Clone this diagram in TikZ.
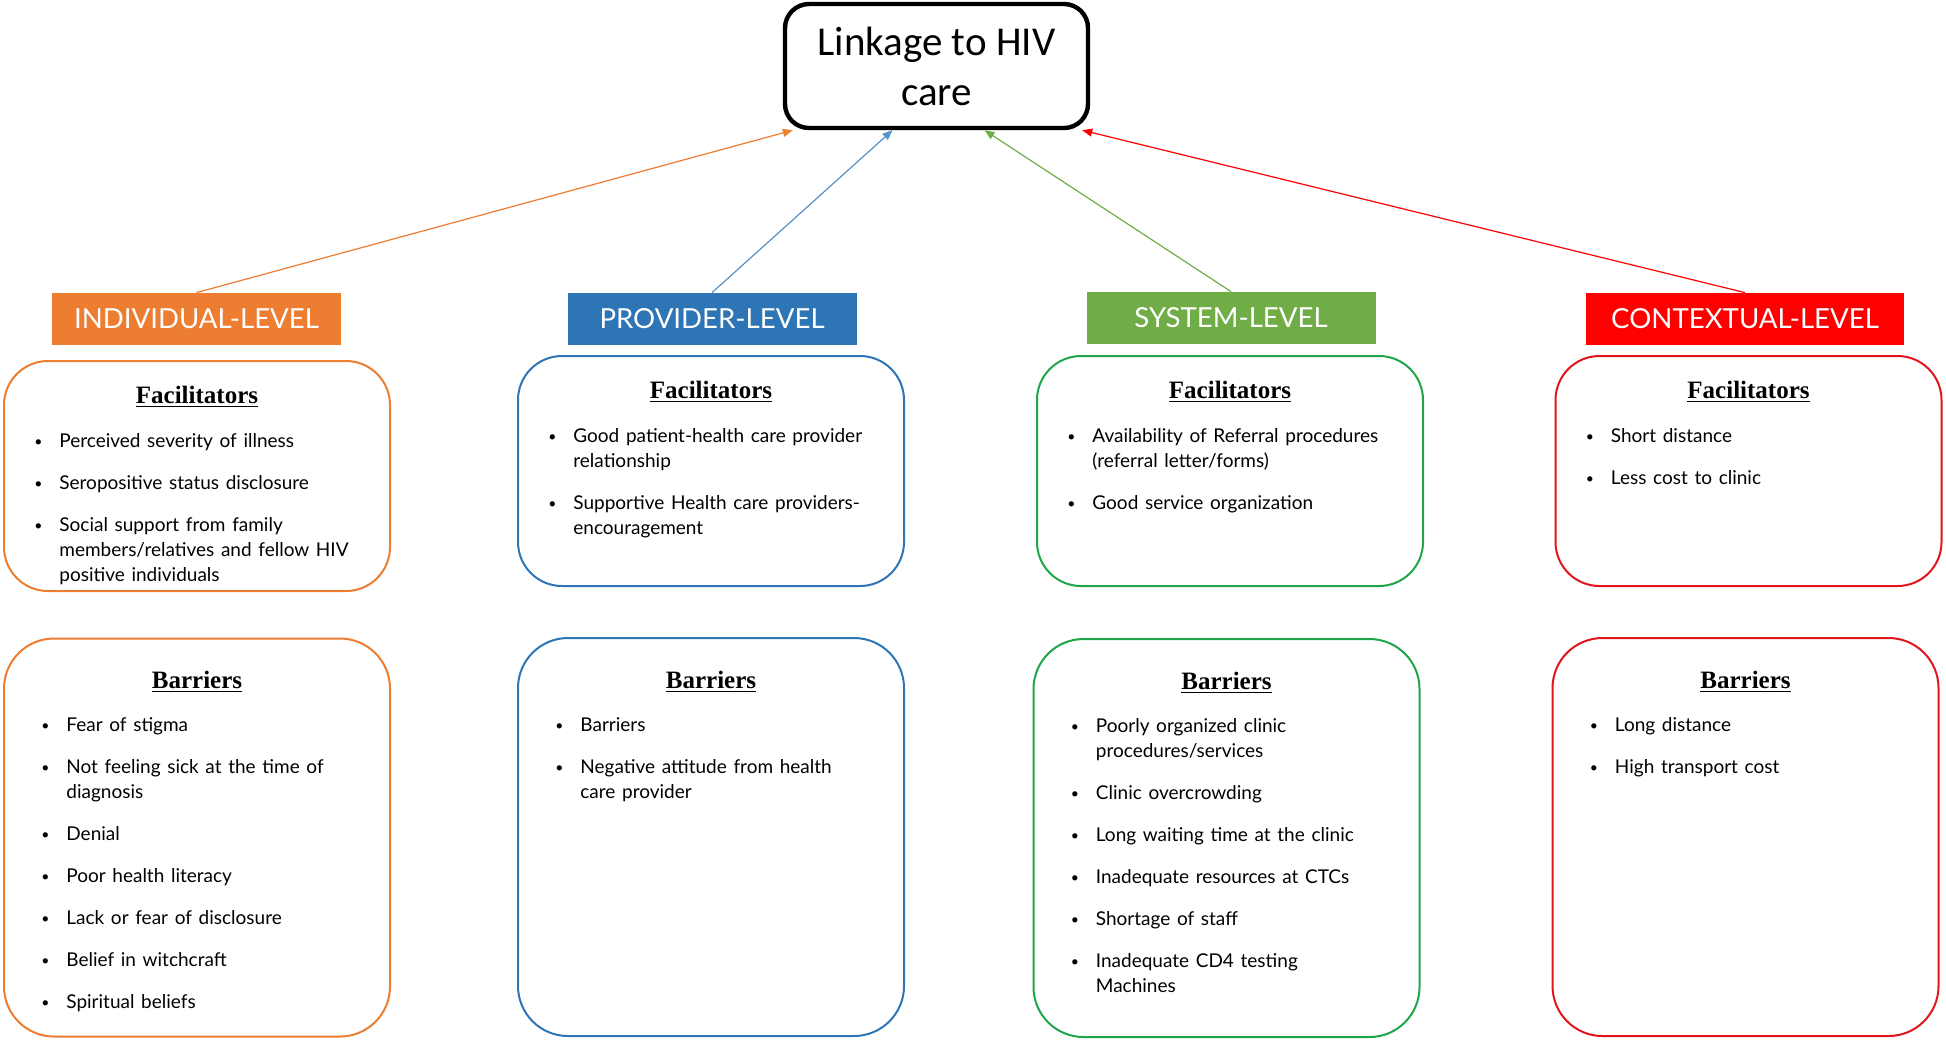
\documentclass[tikz,border=0pt]{standalone}
\usepackage{fontspec}
\usepackage{xcolor}
\usepackage{tikz}
\usetikzlibrary{positioning,arrows.meta}

\setmainfont{Lato}
\newfontfamily\titlefont{Carlito}
\newfontfamily\headfont{Liberation Serif}

\definecolor{indorange}{HTML}{ED7D31}
\definecolor{provblue}{HTML}{2E75B6}
\definecolor{sysgreen}{HTML}{70AD47}
\definecolor{ctxred}{HTML}{FF0000}
\definecolor{sysline}{HTML}{1FA54A}
\definecolor{ctxline}{HTML}{E0161C}

% one bullet point, hanging indent for wrapped lines
\newcommand{\bul}[1]{\hangindent=12.5pt\hangafter=1\makebox[12.5pt][l]{\raisebox{0.4pt}{\fontsize{7}{7}\selectfont\textbullet}}\strut#1\par}

\tikzset{
    goalbox/.style={draw=black,line width=2.2pt,rounded corners=12pt,minimum width=151.5pt,minimum height=62pt,align=center,font=\titlefont\fontsize{20.5}{25}\selectfont},
    levelbox/.style={minimum width=144.5pt,minimum height=26pt,text=white,font=\fontsize{13.8}{15}\selectfont},
    facbox/.style={draw=#1,line width=1pt,rounded corners=22pt,minimum width=193pt,minimum height=115pt},
    barbox/.style={draw=#1,line width=1pt,rounded corners=25pt,minimum width=193pt,minimum height=199pt},
    boxhead/.style={anchor=base,font=\headfont\bfseries\fontsize{12.5}{15}\selectfont},
    itemlist/.style={anchor=base west,text width=175pt,align=left,
        execute at begin node={\fontsize{9.5}{12.5}\selectfont\setlength{\parskip}{8.5pt}}},
    link/.style={draw=#1,line width=0.6pt,-{Triangle[length=5pt,width=4pt]}}
}

\begin{document}
\begin{tikzpicture}[x=0.5pt,y=-0.5pt,every node/.style={inner sep=0pt}]
    \useasboundingbox (0,0) rectangle (1946,1041);

    \node[goalbox] (goal) at (936.5,66) {Linkage to HIV\\care};

    % levels
    \node[levelbox,fill=indorange] (lvl1) at (196.5,319) {INDIVIDUAL-LEVEL};
    \node[levelbox,fill=provblue] (lvl2) at (712,319) {PROVIDER-LEVEL};
    \node[levelbox,fill=sysgreen] (lvl3) at (1231,318) {SYSTEM-LEVEL};
    \node[levelbox,fill=ctxred,minimum width=159pt] (lvl4) at (1745,319) {CONTEXTUAL-LEVEL};

    \draw[link=indorange] (lvl1.north) -- ([xshift=5pt]goal.south west);
    \draw[link=provblue!80] (lvl2.north) -- ([xshift=-22pt]goal.south);
    \draw[link=sysgreen] (lvl3.north) -- ([xshift=24pt]goal.south);
    \draw[link=ctxred] (lvl4.north) -- ([xshift=-4pt]goal.south east);

    % facilitators
    \node[facbox=indorange] (fac1) at (197,476) {};
    \node[facbox=provblue] (fac2) at (711,471) {};
    \node[facbox=sysline] (fac3) at (1230,471) {};
    \node[facbox=ctxline] (fac4) at (1748.5,471) {};

    % barriers
    \node[barbox=indorange] (bar1) at (197,837.5) {};
    \node[barbox=provblue] (bar2) at (711,837) {};
    \node[barbox=sysline] (bar3) at (1226.5,838) {};
    \node[barbox=ctxline] (bar4) at (1745.5,837) {};

    \foreach \i in {1,...,4}{
        \node[boxhead] (fachead\i) at ([shift={(0,43)}]fac\i.north) {\underline{Facilitators}};
        \node[boxhead] (barhead\i) at ([shift={(0,51)}]bar\i.north) {\underline{Barriers}};
    }

    \node[itemlist] (faclist1) at ([shift={(31,87)}]fac1.north west) {%
        \bul{Perceived severity of illness}
        \bul{Seropositive status disclosure}
        \bul{Social support from family\newline members/relatives and fellow HIV\newline positive individuals}};
    \node[itemlist] (faclist2) at ([shift={(31,87)}]fac2.north west) {%
        \bul{Good patient-health care provider\newline relationship}
        \bul{Supportive Health care providers-\newline encouragement}};
    \node[itemlist] (faclist3) at ([shift={(31,87)}]fac3.north west) {%
        \bul{Availability of Referral procedures\newline (referral letter/forms)}
        \bul{Good service organization}};
    \node[itemlist] (faclist4) at ([shift={(31,87)}]fac4.north west) {%
        \bul{Short distance}
        \bul{Less cost to clinic}};

    \node[itemlist] (barlist1) at ([shift={(38,94)}]bar1.north west) {%
        \bul{Fear of stigma}
        \bul{Not feeling sick at the time of\newline diagnosis}
        \bul{Denial}
        \bul{Poor health literacy}
        \bul{Lack or fear of disclosure}
        \bul{Belief in witchcraft}
        \bul{Spiritual beliefs}};
    \node[itemlist] (barlist2) at ([shift={(38,94)}]bar2.north west) {%
        \bul{Barriers}
        \bul{Negative attitude from health\newline care provider}};
    \node[itemlist] (barlist3) at ([shift={(38,94)}]bar3.north west) {%
        \bul{Poorly organized clinic\newline procedures/services}
        \bul{Clinic overcrowding}
        \bul{Long waiting time at the clinic}
        \bul{Inadequate resources at CTCs}
        \bul{Shortage of staff}
        \bul{Inadequate CD4 testing\newline Machines}};
    \node[itemlist] (barlist4) at ([shift={(38,94)}]bar4.north west) {%
        \bul{Long distance}
        \bul{High transport cost}};
\end{tikzpicture}
\end{document}
